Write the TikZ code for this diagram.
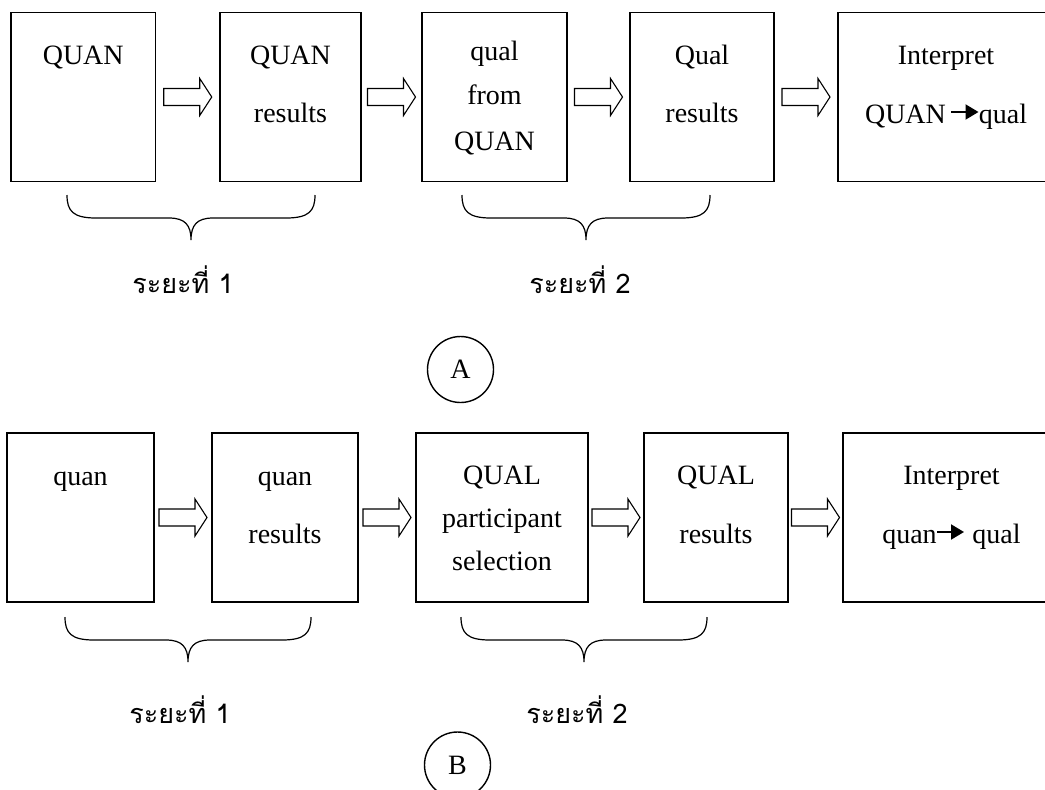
\documentclass[tikz,border=0pt]{standalone}
\usepackage{fontspec}
\setmainfont{Liberation Serif}
\newfontfamily\thaifont[Script=Thai]{Loma}
\usetikzlibrary{calc,arrows.meta}

\tikzset{
  box/.style={draw, line width=0.8pt, minimum height=84.5pt, inner sep=0pt},
  lbl/.style={anchor=base, inner sep=0pt, font=\fontsize{14}{17}\selectfont},
  phase/.style={anchor=base, inner sep=0pt, font=\thaifont\fontsize{13.5}{16}\selectfont},
  tag/.style={circle, draw, line width=0.7pt, minimum size=33pt, inner sep=0pt, font=\fontsize{14}{17}\selectfont},
  bracel/.style={line width=0.6pt},
  smallarr/.style={line width=1pt, -{Triangle[length=6.5pt,width=7.5pt]}},
  hollow/.pic={\draw[line width=0.55pt] (-24,-8.5) -- (12,-8.5) -- (12,-18.5) -- (24,0) -- (12,18.5) -- (12,8.5) -- (-24,8.5) -- cycle;}
}

\begin{document}
\begin{tikzpicture}[x=0.5pt,y=-0.5pt]
    \useasboundingbox (0,0) rectangle (1045,789);

    % Row A: boxes
    \node[box, minimum width=72.25pt] (a1) at (83.25,97) {};
    \node[box, minimum width=70.5pt]  (a2) at (290.5,97) {};
    \node[box, minimum width=72.5pt]  (a3) at (494.5,97) {};
    \node[box, minimum width=72pt]    (a4) at (702,97) {};
    \node[box, minimum width=108pt]   (a5) at (946,97) {};

    \node[lbl] (a1q) at (83.25,64) {QUAN};
    \node[lbl] (a2q) at (290.5,64) {QUAN};
    \node[lbl] (a2r) at (290.5,122) {results};
    \node[lbl] (a3q) at (494.5,60) {qual};
    \node[lbl] (a3f) at (494.5,104) {from};
    \node[lbl] (a3n) at (494.5,150) {QUAN};
    \node[lbl] (a4q) at (702,64) {Qual};
    \node[lbl] (a4r) at (702,122) {results};
    \node[lbl] (a5i) at (946,64) {Interpret};
    \node[lbl] (a5q) at (905.5,123) {QUAN};
    \node[lbl] (a5l) at (1003,123) {qual};
    \draw[smallarr] ([yshift=5.5pt,xshift=2.5pt]a5q.base east) -- ([yshift=5.5pt]a5l.base west);

    % Row A: hollow arrows
    \pic at ($(a1.east)!0.5!(a2.west)$) {hollow};
    \pic at ($(a2.east)!0.5!(a3.west)$) {hollow};
    \pic at ($(a3.east)!0.5!(a4.west)$) {hollow};
    \pic at ($(a4.east)!0.5!(a5.west)$) {hollow};

    % Row B: boxes
    \node[box, minimum width=73.5pt] (b1) at (80.5,517.5) {};
    \node[box, minimum width=73pt]   (b2) at (285,517.5) {};
    \node[box, minimum width=86pt]   (b3) at (502,517.5) {};
    \node[box, minimum width=72pt]   (b4) at (716,517.5) {};
    \node[box, minimum width=108.5pt] (b5) at (951.5,517.5) {};

    \node[lbl] (b1q) at (80.5,485) {quan};
    \node[lbl] (b2q) at (285,485) {quan};
    \node[lbl] (b2r) at (285,543) {results};
    \node[lbl] (b3q) at (502,484) {QUAL};
    \node[lbl] (b3p) at (502,527) {participant};
    \node[lbl] (b3s) at (502,570) {selection};
    \node[lbl] (b4q) at (716,484) {QUAL};
    \node[lbl] (b4r) at (716,543) {results};
    \node[lbl] (b5i) at (951.5,484) {Interpret};
    \node[lbl] (b5q) at (909.5,543) {quan};
    \node[lbl] (b5l) at (996.5,543) {qual};
    \draw[smallarr] ([yshift=5.5pt]b5q.base east) -- ([yshift=5.5pt,xshift=-4pt]b5l.base west);

    % Row B: hollow arrows
    \pic at ($(b1.east)!0.5!(b2.west)$) {hollow};
    \pic at ($(b2.east)!0.5!(b3.west)$) {hollow};
    \pic at ($(b3.east)!0.5!(b4.west)$) {hollow};
    \pic at ($(b4.east)!0.5!(b5.west)$) {hollow};

    % Braces under the phases
    \foreach \xl/\xr/\yt in {67/315/195, 462/710/195, 65/311/617, 461/707/617} {
      \pgfmathsetmacro\xm{(\xl+\xr)/2}
      \draw[bracel] (\xl,\yt) .. controls (\xl,\yt+16) and (\xl+6,\yt+23) .. (\xl+29,\yt+23)
        -- (\xm-22,\yt+23) .. controls (\xm-6,\yt+23) and (\xm,\yt+30) .. (\xm,\yt+45)
        .. controls (\xm,\yt+30) and (\xm+6,\yt+23) .. (\xm+22,\yt+23)
        -- (\xr-29,\yt+23) .. controls (\xr-6,\yt+23) and (\xr,\yt+16) .. (\xr,\yt);
    }

    % Phase labels
    \node[phase] (pa1) at (183,293) {ระยะที่ 1};
    \node[phase] (pa2) at (580,293) {ระยะที่ 2};
    \node[phase] (pb1) at (180,723) {ระยะที่ 1};
    \node[phase] (pb2) at (577,723) {ระยะที่ 2};

    % Model tags
    \node[tag] (ta) at (460.5,369.5) {A};
    \node[tag] (tb) at (457.5,765) {B};
\end{tikzpicture}
\end{document}
